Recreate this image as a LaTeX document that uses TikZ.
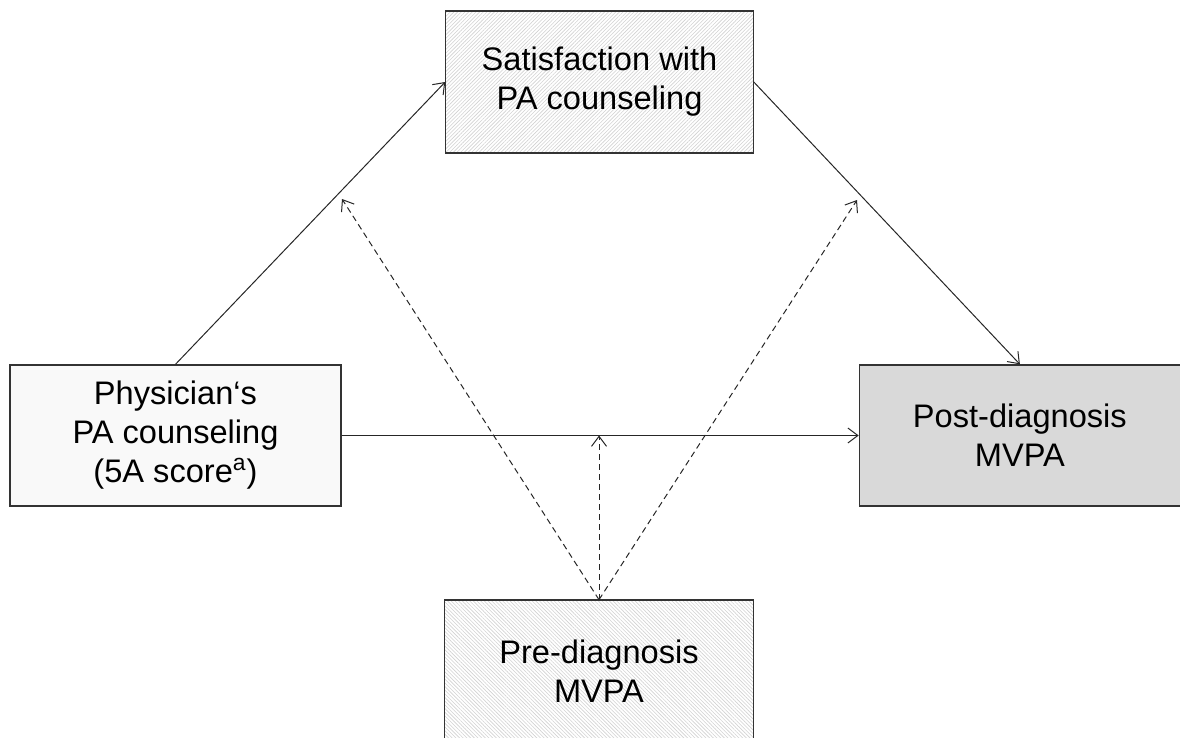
\documentclass[tikz,border=0pt]{standalone}
\usepackage{fontspec}
\setmainfont{Liberation Sans}
\usepackage{xcolor}
\usetikzlibrary{arrows.meta, positioning, patterns.meta}
\tikzset{
    plain/.style={
        rectangle, draw=black!80, fill=gray!5,
        minimum width=165.5pt, minimum height=70.5pt,
        text centered, align=center,
        font=\fontsize{16.3}{19.5}\selectfont, line width=0.7pt,
    },
    outcome/.style={
        plain, fill=gray!30, minimum width=160.5pt,
    },
    hatched/.style={
        plain, minimum width=154pt, minimum height=71pt,
        preaction={fill=white},
        pattern={Lines[angle=#1, distance=1.3pt, line width=0.3pt]},
        pattern color=gray!35,
    },
    flow/.style={-{Straight Barb[length=5pt, width=7.5pt]}, line width=0.5pt, draw=black!85},
    moderate/.style={-{Straight Barb[length=5pt, width=7.5pt]}, line width=0.5pt, draw=black!85,
        dash pattern=on 3pt off 2pt},
}
\begin{document}
\begin{tikzpicture}[x=0.5pt, y=-0.5pt]

    \useasboundingbox (0,0) rectangle (1180,738);

    \node[plain] (phys) at (175.5,435.5) {Physician‘s\\PA counseling\\(5A score\textsuperscript{a})};
    \node[outcome, right=258.5pt of phys] (post) {Post-diagnosis\\MVPA};
    \node[hatched=45] (sat) at (599.5,82) {Satisfaction with\\PA counseling};
    \node[hatched=-45, minimum width=154.5pt] (pre) at (599,671) {Pre-diagnosis\\MVPA};

    \coordinate (mod1) at (342,199);
    \coordinate (mod2) at (857,200);

    \draw[flow] (phys.north) -- (sat.west);
    \draw[flow] (sat.east) -- (post.north);
    \draw[flow] (phys.east) -- (post.west);

    \draw[moderate] (pre.north) -- (mod1);
    \draw[moderate] (pre.north) -- (mod2);
    \draw[moderate] (pre.north) -- (pre.north |- phys.east);

\end{tikzpicture}
\end{document}
